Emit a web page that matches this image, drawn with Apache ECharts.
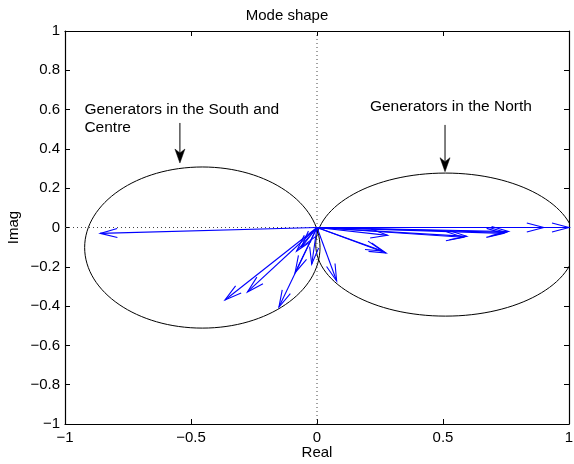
<!DOCTYPE html>
<html>
<head>
<meta charset="utf-8">
<style>
  html, body { margin: 0; padding: 0; background: #fff; }
  #chart { width: 574px; height: 464px; }
</style>
<script src="https://cdn.jsdelivr.net/npm/echarts@6/dist/echarts.min.js"></script>
</head>
<body>
<div id="chart"></div>
<script>
// Mode shape: complex eigenvector components (real, imag) per generator
const arrowRe = [-0.86, -0.365, -0.276, -0.151, -0.087, -0.081, -0.062, -0.021, 0.078,
                 1.00, 0.90, 0.76, 0.75, 0.74, 0.594, 0.58, 0.28, 0.274, 0.26];
const arrowIm = [-0.03, -0.369, -0.328, -0.405, -0.23, -0.12, -0.10, -0.187, -0.272,
                 0.00, 0.00, -0.02, -0.025, -0.03, -0.045, -0.05, -0.04, -0.13, -0.12];

// Group outlines: centre and semi-axes
const groupCx = [-0.455, 0.51];
const groupCy = [-0.102, -0.087];
const groupRx = [0.467, 0.515];
const groupRy = [0.41, 0.364];

// Annotations
const noteText = ['Generators in the South and\nCentre', 'Generators in the North'];
const noteTextRe = [-0.923, 0.21];
const noteTextIm = [0.598, 0.615];
const noteArrowRe = [-0.544, 0.508];
const noteArrowFromIm = [0.532, 0.522];
const noteArrowToIm = [0.328, 0.284];

const xTicks = [-1, -0.5, 0, 0.5, 1];
const yTicks = [-1, -0.8, -0.6, -0.4, -0.2, 0, 0.2, 0.4, 0.6, 0.8, 1];

const FONT = '"Liberation Sans", Arial, Helvetica, sans-serif';
const fmt = v => String(v).replace('-', '\u2212');

const arrowData = arrowRe.map((r, i) => [r, arrowIm[i]]);
const groupData = groupCx.map((c, i) => [c, groupCy[i], groupRx[i], groupRy[i]]);
const noteData = noteText.map((t, i) => [noteTextRe[i], noteTextIm[i], noteArrowRe[i], noteArrowFromIm[i], noteArrowToIm[i], i]);

function clipRect(params) {
  const cs = params.coordSys;
  return { type: 'rect', shape: { x: cs.x, y: cs.y, width: cs.width, height: cs.height } };
}

const axisCommon = {
  type: 'value', min: -1, max: 1,
  axisLine: { show: true, onZero: false, lineStyle: { color: '#000', width: 1.2 } },
  axisTick: { show: true, inside: true, length: 5, lineStyle: { color: '#000' } },
  splitLine: { show: false },
  axisLabel: { color: '#000', fontFamily: FONT, fontSize: 15, formatter: fmt }
};

const chart = echarts.init(document.getElementById('chart'), null, { renderer: 'canvas' });
chart.setOption({
  animation: false,
  backgroundColor: '#fff',
  title: {
    text: 'Mode shape', left: 'center', top: 3,
    textStyle: { fontFamily: FONT, fontSize: 15, fontWeight: 'normal', color: '#000' }
  },
  grid: { left: 65, right: 5, top: 31, bottom: 40, containLabel: false, outerBoundsMode: 'none' },
  xAxis: [
    Object.assign({}, axisCommon, {
      position: 'bottom', interval: 0.5,
      name: 'Real', nameLocation: 'middle', nameGap: 21, nameMoveOverlap: false,
      nameTextStyle: { fontFamily: FONT, fontSize: 15, color: '#000' },
      axisLabel: Object.assign({}, axisCommon.axisLabel, { margin: 6 })
    }),
    Object.assign({}, axisCommon, {
      position: 'top', interval: 0.5, axisLabel: { show: false }
    })
  ],
  yAxis: [
    Object.assign({}, axisCommon, {
      position: 'left', interval: 0.2,
      name: 'Imag', nameLocation: 'middle', nameGap: 44, nameMoveOverlap: false,
      nameTextStyle: { fontFamily: FONT, fontSize: 15, color: '#000' },
      axisLabel: Object.assign({}, axisCommon.axisLabel, { margin: 5,
        formatter: v => fmt(Math.round(v * 10) / 10) })
    }),
    Object.assign({}, axisCommon, {
      position: 'right', interval: 0.2, axisLabel: { show: false }
    })
  ],
  series: [
    // dotted zero lines
    {
      type: 'line', xAxisIndex: 0, yAxisIndex: 0, symbol: 'none', silent: true, z: 1,
      data: [[-1, 0], [1, 0]],
      lineStyle: { color: '#444', width: 1, type: [1, 3] }
    },
    {
      type: 'line', xAxisIndex: 0, yAxisIndex: 0, symbol: 'none', silent: true, z: 1,
      data: [[0, -1], [0, 1]],
      lineStyle: { color: '#444', width: 1, type: [1, 3] }
    },
    // group outlines
    {
      type: 'custom', xAxisIndex: 0, yAxisIndex: 0, z: 2, silent: true,
      data: groupData,
      renderItem: function (params, api) {
        const c = api.coord([api.value(0), api.value(1)]);
        const s = api.size([api.value(2), api.value(3)]);
        return {
          type: 'group',
          clipPath: clipRect(params),
          children: [{
            type: 'ellipse',
            shape: { cx: c[0], cy: c[1], rx: s[0], ry: s[1] },
            style: { fill: null, stroke: '#000', lineWidth: 1 }
          }]
        };
      }
    },
    // compass arrows from the origin
    {
      type: 'custom', xAxisIndex: 0, yAxisIndex: 0, z: 3, silent: true,
      data: arrowData,
      renderItem: function (params, api) {
        const o = api.coord([0, 0]);
        const p = api.coord([api.value(0), api.value(1)]);
        const dx = p[0] - o[0], dy = p[1] - o[1];
        const len = Math.sqrt(dx * dx + dy * dy) || 1;
        const ux = dx / len, uy = dy / len;
        const hl = 17, hw = 4.5;
        const bx = p[0] - ux * hl, by = p[1] - uy * hl;
        const a = [bx - uy * hw, by + ux * hw];
        const b = [bx + uy * hw, by - ux * hw];
        const st = { fill: null, stroke: '#0000ff', lineWidth: 1.1 };
        return {
          type: 'group',
          children: [
            { type: 'polyline', shape: { points: [o, p] }, style: st },
            { type: 'polyline', shape: { points: [a, p, b] }, style: st }
          ]
        };
      }
    },
    // annotations
    {
      type: 'custom', xAxisIndex: 0, yAxisIndex: 0, z: 4, silent: true,
      data: noteData,
      renderItem: function (params, api) {
        const t = api.coord([api.value(0), api.value(1)]);
        const f = api.coord([api.value(2), api.value(3)]);
        const e = api.coord([api.value(2), api.value(4)]);
        const idx = api.value(5);
        const hl = 14, hw = 5, notch = 4;
        const head = [
          [e[0], e[1]],
          [e[0] - hw, e[1] - hl],
          [e[0], e[1] - hl + notch],
          [e[0] + hw, e[1] - hl]
        ];
        return {
          type: 'group',
          children: [
            {
              type: 'text',
              style: {
                x: t[0], y: t[1] - 9, text: noteText[idx],
                fill: '#000', font: '15.5px ' + FONT,
                align: 'left', verticalAlign: 'top', lineHeight: 18
              }
            },
            {
              type: 'line',
              shape: { x1: f[0], y1: f[1], x2: e[0], y2: e[1] - hl + notch },
              style: { stroke: '#000', lineWidth: 1 }
            },
            {
              type: 'polygon',
              shape: { points: head },
              style: { fill: '#000', stroke: '#000', lineWidth: 0.5 }
            }
          ]
        };
      }
    }
  ]
});
</script>
</body>
</html>
